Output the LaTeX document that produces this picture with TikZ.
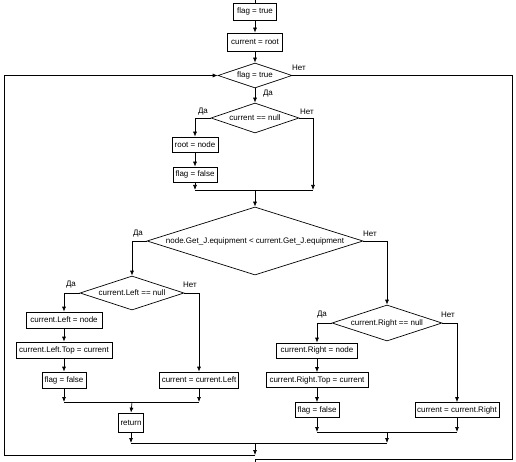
\documentclass[tikz,border=0pt]{standalone}
\usepackage{fontspec}
\setmainfont{Liberation Sans}
\usetikzlibrary{shapes.geometric,arrows.meta}
\begin{document}
\begin{tikzpicture}[x=1pt,y=-1pt,
  txt/.style={font=\fontsize{8}{9}\selectfont},
  box/.style={txt,draw,line width=0.7pt,inner sep=0pt,minimum height=15pt},
  dia/.style={txt,draw,diamond,shape aspect=3,line width=0.7pt,inner sep=0pt},
  lbl/.style={txt,inner sep=0pt},
  flow/.style={line width=0.7pt},
  arr/.style={flow,-{Latex[length=5pt,width=4pt]}}]
\useasboundingbox (0,0) rectangle (516,462);
% nodes
\node[box,minimum width=43pt,minimum height=17pt] (f1) at (255,11.5) {flag = true};
\node[box,minimum width=55pt,minimum height=18pt] (c1) at (255,42) {current = root};
\node[dia,minimum width=74pt,minimum height=25pt] (d1) at (255,75.5) {flag = true};
\node[dia,minimum width=88pt,minimum height=30pt] (d2) at (255,118) {current == null};
\node[box,minimum width=46pt] (broot) at (195,144.5) {root = node};
\node[box,minimum width=44pt] (bff1) at (195,174.5) {flag = false};
\node[dia,shape aspect=3.18,minimum width=216pt,minimum height=68pt] (d3) at (255,241) {node.Get\_J.equipment < current.Get\_J.equipment};
\node[dia,minimum width=104pt,minimum height=34pt] (d4) at (132,293) {current.Left == null};
\node[box,minimum width=76pt,minimum height=16pt] (bcl) at (64,320) {current.Left = node};
\node[box,minimum width=96pt,minimum height=16pt] (bclt) at (64,350) {current.Left.Top = current};
\node[box,minimum width=44pt,minimum height=16pt] (bff2) at (64,380) {flag = false};
\node[box,minimum width=79pt,minimum height=16pt] (bccl) at (199,380) {current = current.Left};
\node[box,minimum width=25pt,minimum height=19pt] (bret) at (131,422.5) {return};
\node[dia,minimum width=110pt,minimum height=36pt] (d5) at (387,323) {current.Right == null};
\node[box,minimum width=81pt] (bcr) at (317,350.5) {current.Right = node};
\node[box,minimum width=102pt] (bcrt) at (317,380) {current.Right.Top = current};
\node[box,minimum width=44pt] (bff3) at (317,410) {flag = false};
\node[box,minimum width=84pt] (bccr) at (457,410) {current = current.Right};
% labels
\node[lbl] (t1) at (299,68) {Нет};
\node[lbl] (t2) at (268,94) {Да};
\node[lbl] (t3) at (203,112) {Да};
\node[lbl] (t4) at (307,112) {Нет};
\node[lbl] (t5) at (138,234) {Да};
\node[lbl] (t6) at (370,234) {Нет};
\node[lbl] (t7) at (71,285) {Да};
\node[lbl] (t8) at (190,285) {Нет};
\node[lbl] (t9) at (322,315) {Да};
\node[lbl] (t10) at (448,315) {Нет};
% coordinates
\coordinate (top) at (255,0);
\coordinate (m1) at (255,190);
\coordinate (n1) at (313,190);
\coordinate (m2) at (132,402);
\coordinate (m3) at (387,432);
\coordinate (m4) at (255,443);
\coordinate (lp) at (255,455);
\coordinate (l1) at (4,455);
\coordinate (r1) at (512,459);
\coordinate (ex) at (255,462);
% connectors
\draw[flow] (top) -- (f1.north);
\draw[arr] (f1) -- (c1);
\draw[arr] (c1) -- (d1);
\draw[arr] (d1.south) -- (d2.north);
\draw[arr] (d2.west) -| (broot.north);
\draw[arr] (broot) -- (bff1);
\draw[arr] (bff1.south) -- (bff1.south |- m1);
\draw[arr] (d2.east) -| (n1);
\draw[flow] (bff1.south |- m1) -- (n1);
\draw[arr] (m1) -- (d3.north);
\draw[arr] (d3.west) -| (d4.north);
\draw[arr] (d3.east) -| (d5.north);
% left subtree
\draw[arr] (d4.west) -| (bcl.north);
\draw[arr] (bcl) -- (bclt);
\draw[arr] (bclt) -- (bff2);
\draw[arr] (bff2.south) -- (bff2.south |- m2);
\draw[arr] (d4.east) -| (bccl.north);
\draw[arr] (bccl.south) -- (bccl.south |- m2);
\draw[flow] (bff2.south |- m2) -- (bccl.south |- m2);
\draw[arr] (m2) -- (bret.north);
\draw[arr] (bret.south) -- (bret.south |- m4);
% right subtree
\draw[arr] (d5.west) -| (bcr.north);
\draw[arr] (bcr) -- (bcrt);
\draw[arr] (bcrt) -- (bff3);
\draw[arr] (bff3.south) -- (bff3.south |- m3);
\draw[arr] (d5.east) -| (bccr.north);
\draw[arr] (bccr.south) -- (bccr.south |- m3);
\draw[flow] (bff3.south |- m3) -- (bccr.south |- m3);
\draw[arr] (m3) -- (m3 |- m4);
\draw[flow] (bret.south |- m4) -- (m3 |- m4);
% loop and exit
\draw[arr] (m4) -- (lp);
\draw[arr] (lp) -- (l1) |- (d1.west);
\draw[flow] (d1.east) -| (r1) -| (ex);
\end{tikzpicture}
\end{document}
